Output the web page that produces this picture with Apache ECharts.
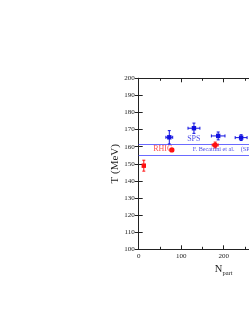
<!DOCTYPE html>
<html><head><meta charset="utf-8">
<script src="https://cdn.jsdelivr.net/npm/echarts@6/dist/echarts.min.js"></script>
<style>html,body{margin:0;padding:0;overflow:hidden;background:#fff;width:249px;height:323px}#c{width:340px;height:323px}</style>
</head><body><div id="c"></div>
<script>
// SPS (blue) points
var spsX = [72, 130, 187, 241];
var spsT = [165.5, 170.8, 166.3, 165.3];
var spsXErr = [8, 14, 16, 14];
var spsTErr = [3.9, 3, 2.3, 1.7];
// RHIC (red) points
var rhicX = [12, 78, 180];
var rhicT = [148.9, 158.1, 161];
var rhicXErr = [2, 4, 7];
var rhicTErr = [3.2, 0.8, 1.7];
// Becattini band
var bandT = [161.4, 155.1];
// annotations
var noteText = ['SPS', 'RHIC', 'F. Becattini et al.    (SPS)'];
var noteX = [114, 34, 127];
var noteT = [164.5, 158.7, 158.4];
var noteSize = [8, 8, 6.2];
var noteColor = ['#1a1adf', '#ff2020', '#1a1adf'];
// ticks
var xTicks = [0, 100, 200, 300, 400];
var yTicks = [100, 110, 120, 130, 140, 150, 160, 170, 180, 190, 200];

function build(xs, ys, xe, ye) {
  return xs.map(function (x, i) { return [x, ys[i], xe[i], ye[i]]; });
}

function errRender(color, shapes) {
  return function (params, api) {
    var x = api.value(0), y = api.value(1), xe = api.value(2), ye = api.value(3);
    var c = api.coord([x, y]);
    var l = api.coord([x - xe, y]), r = api.coord([x + xe, y]);
    var t = api.coord([x, y + ye]), b = api.coord([x, y - ye]);
    var st = { stroke: color, lineWidth: 1 };
    var cap = 1.5;
    var ch = [
      { type: 'line', shape: { x1: l[0], y1: c[1], x2: r[0], y2: c[1] }, style: st },
      { type: 'line', shape: { x1: c[0], y1: t[1], x2: c[0], y2: b[1] }, style: st },
      { type: 'line', shape: { x1: l[0], y1: c[1] - cap, x2: l[0], y2: c[1] + cap }, style: st },
      { type: 'line', shape: { x1: r[0], y1: c[1] - cap, x2: r[0], y2: c[1] + cap }, style: st },
      { type: 'line', shape: { x1: c[0] - cap, y1: t[1], x2: c[0] + cap, y2: t[1] }, style: st },
      { type: 'line', shape: { x1: c[0] - cap, y1: b[1], x2: c[0] + cap, y2: b[1] }, style: st }
    ];
    var shape = shapes[params.dataIndex];
    if (shape === 'rect') {
      ch.push({ type: 'rect', shape: { x: c[0] - 2.2, y: c[1] - 2.2, width: 4.4, height: 4.4 }, style: { fill: color } });
    } else {
      ch.push({ type: 'circle', shape: { cx: c[0], cy: c[1], r: 2.6 }, style: { fill: color } });
    }
    return { type: 'group', children: ch };
  };
}

var serif = 'Liberation Serif, DejaVu Serif, serif';
var axisCommon = {
  type: 'value', min: 0, max: 400, interval: 100,
  axisLine: { show: true, lineStyle: { color: '#222', width: 1 } },
  axisTick: { show: true, inside: true, length: 4, lineStyle: { color: '#222' } },
  minorTick: { show: true, splitNumber: 2, length: 2.5, lineStyle: { color: '#222' } },
  splitLine: { show: false }
};

var chart = echarts.init(document.getElementById('c'));
chart.setOption({
  animation: false,
  backgroundColor: '#fff',
  grid: { left: 138.7, top: 78.3, bottom: 73.7, right: 31.3, containLabel: false },
  xAxis: [
    Object.assign({}, axisCommon, {
      position: 'bottom',
      axisLabel: { show: true, fontFamily: serif, fontSize: 7, color: '#222', margin: 3,
        formatter: function (v) { return xTicks.indexOf(v) >= 0 ? String(v) : ''; } },
      name: '{a|N}{b|part}', nameLocation: 'middle', nameGap: 12,
      nameTextStyle: { rich: {
        a: { fontFamily: serif, fontSize: 10.5, color: '#222' },
        b: { fontFamily: serif, fontSize: 6.5, color: '#222', padding: [7, 0, 0, 0] }
      } }
    }),
    Object.assign({}, axisCommon, { position: 'top', axisLabel: { show: false } })
  ],
  yAxis: [
    {
      type: 'value', min: 100, max: 200, interval: 10, position: 'left',
      axisLine: { show: true, lineStyle: { color: '#222', width: 1 } },
      axisTick: { show: true, inside: true, length: 4, lineStyle: { color: '#222' } },
      splitLine: { show: false },
      axisLabel: { fontFamily: serif, fontSize: 7, color: '#222', margin: 4,
        formatter: function (v) { return yTicks.indexOf(v) >= 0 ? String(v) : ''; } },
      name: 'T (MeV)', nameLocation: 'middle', nameRotate: 90, nameGap: 12,
      nameTextStyle: { fontFamily: serif, fontSize: 11, color: '#222' }
    },
    {
      type: 'value', min: 100, max: 200, interval: 10, position: 'right',
      axisLine: { show: true, lineStyle: { color: '#222', width: 1 } },
      axisTick: { show: true, inside: true, length: 4 },
      axisLabel: { show: false }, splitLine: { show: false }
    }
  ],
  series: [
    {
      type: 'line', data: [], xAxisIndex: 0, yAxisIndex: 0,
      markLine: {
        silent: true, symbol: ['none', 'none'], label: { show: false },
        lineStyle: { color: '#6a6aff', width: 1, type: 'solid' },
        data: bandT.map(function (t) { return { yAxis: t }; })
      }
    },
    {
      type: 'custom', renderItem: errRender('#1010e0', ['rect', 'rect', 'rect', 'rect']),
      data: build(spsX, spsT, spsXErr, spsTErr), encode: { x: 0, y: 1 }, z: 5
    },
    {
      type: 'custom', renderItem: errRender('#ff1010', ['rect', 'circle', 'circle']),
      data: build(rhicX, rhicT, rhicXErr, rhicTErr), encode: { x: 0, y: 1 }, z: 5
    },
    {
      type: 'scatter', symbolSize: 0, z: 6,
      data: noteText.map(function (s, i) {
        return { value: [noteX[i], noteT[i]], label: { show: true, position: 'right', distance: 0,
          formatter: s, color: noteColor[i], fontFamily: serif, fontSize: noteSize[i] } };
      })
    }
  ]
});
</script></body></html>
